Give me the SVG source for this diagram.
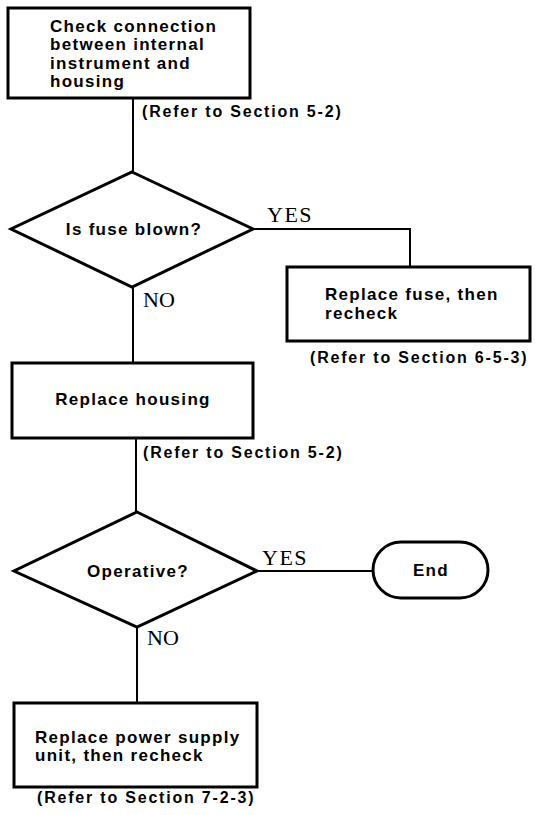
<svg xmlns="http://www.w3.org/2000/svg" width="536" height="815" viewBox="0 0 536 815">
<style>
.box{fill:#fff;stroke:#000;stroke-width:3}
.ln{fill:none;stroke:#000;stroke-width:2}
.t{font-family:"Liberation Sans",Arial,sans-serif;font-weight:bold;font-size:17px;letter-spacing:1.3px;fill:#000}
.r{font-family:"Liberation Sans",Arial,sans-serif;font-weight:bold;font-size:16px;letter-spacing:1.8px;fill:#000}
.yn{font-family:"Liberation Serif","Times New Roman",serif;font-size:22px;fill:#000}
.m{text-anchor:middle}
</style>
<rect width="536" height="815" fill="#fff"/>
<g id="connectors">
<path class="ln" d="M133,98 V172"/>
<path class="ln" d="M253,229 H410 V267"/>
<path class="ln" d="M133,287 V363"/>
<path class="ln" d="M136,438 V512"/>
<path class="ln" d="M257,571 H373"/>
<path class="ln" d="M137,627 V703"/>
<text class="yn" x="267" y="222" letter-spacing="1.5">YES</text>
<text class="yn" x="143" y="307">NO</text>
<text class="yn" x="262" y="565" letter-spacing="1.5">YES</text>
<text class="yn" x="147" y="645">NO</text>
</g>
<g id="check">
<rect class="box" x="8" y="8" width="242" height="90"/>
<text class="t" x="50" y="32">Check connection</text>
<text class="t" x="50" y="50">between internal</text>
<text class="t" x="50" y="68.5">instrument and</text>
<text class="t" x="50" y="87">housing</text>
<text class="r" x="142" y="117">(Refer to Section 5-2)</text>
</g>
<g id="fuse">
<polygon class="box" points="132,172 253,229 132,287 11,229"/>
<text class="t m" x="134" y="235">Is fuse blown?</text>
</g>
<g id="replacefuse">
<rect class="box" x="287" y="267" width="243" height="74"/>
<text class="t" x="325" y="300">Replace fuse, then</text>
<text class="t" x="325" y="319">recheck</text>
<text class="r" x="310" y="363">(Refer to Section 6-5-3)</text>
</g>
<g id="housing">
<rect class="box" x="12" y="363" width="241" height="75"/>
<text class="t m" x="133" y="405">Replace housing</text>
<text class="r" x="143" y="458">(Refer to Section 5-2)</text>
</g>
<g id="operative">
<polygon class="box" points="137,512 257,571 137,627 14,571"/>
<text class="t m" x="138" y="577">Operative?</text>
</g>
<g id="end">
<rect class="box" x="373" y="542" width="115" height="56" rx="28" ry="28"/>
<text class="t m" x="431" y="576">End</text>
</g>
<g id="powersupply">
<rect class="box" x="14" y="703" width="243" height="84"/>
<text class="t" x="35" y="743">Replace power supply</text>
<text class="t" x="35" y="761">unit, then recheck</text>
<text class="r" x="37" y="803">(Refer to Section 7-2-3)</text>
</g>
</svg>
